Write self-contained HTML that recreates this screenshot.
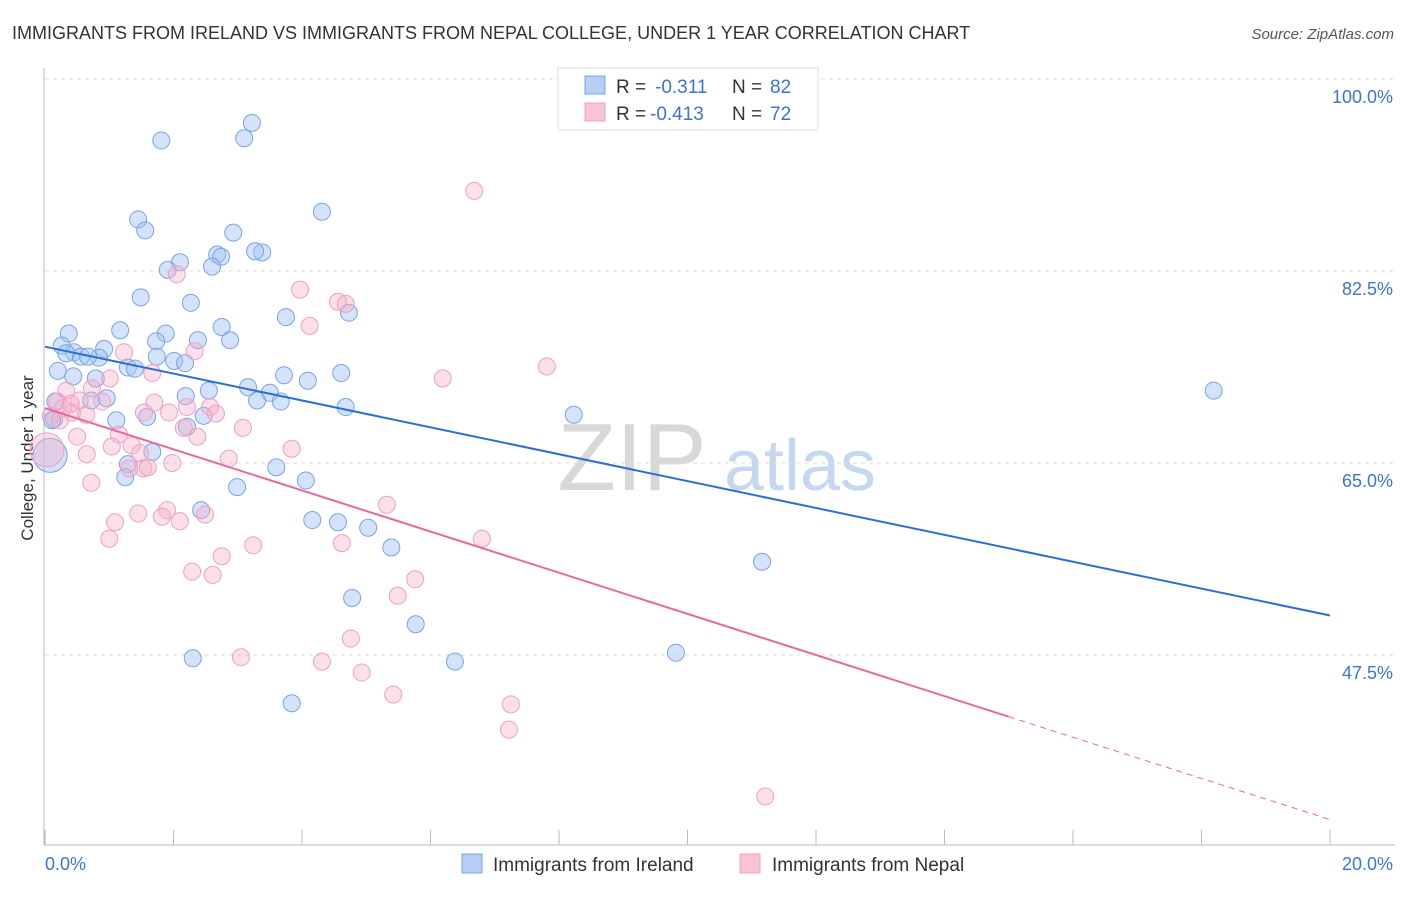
<!DOCTYPE html>
<html><head><meta charset="utf-8"><style>
body{margin:0;background:#fff;font-family:"Liberation Sans",sans-serif;}
svg text{font-family:"Liberation Sans",sans-serif;}
</style></head><body>
<svg id="chart" width="1406" height="892" viewBox="0 0 1406 892">
<text x="12" y="39" font-size="18" fill="#333">IMMIGRANTS FROM IRELAND VS IMMIGRANTS FROM NEPAL COLLEGE, UNDER 1 YEAR CORRELATION CHART</text>
<text x="1394" y="39" font-size="15" fill="#555" text-anchor="end" font-style="italic">Source: ZipAtlas.com</text>
<text transform="translate(33,458) rotate(-90)" font-size="17" fill="#333" text-anchor="middle">College, Under 1 year</text>
<g>
<text x="632" y="490" font-size="96" fill="#d8d8d8" text-anchor="middle" font-family="Liberation Serif">ZIP</text>
<text x="800" y="490" font-size="72" fill="#c5d8f0" text-anchor="middle">atlas</text>
</g>
<g id="grid"></g><g id="axes"></g><g id="pts"></g><g id="lines"></g>
<g>
<rect x="558" y="68" width="260" height="62" fill="#fff" stroke="#ddd"/>
<rect x="585" y="76" width="20" height="18" fill="#b8cff5" stroke="#7aa3e8"/>
<rect x="585" y="103" width="20" height="18" fill="#f8c3d5" stroke="#f0a0bf"/>
<text x="616" y="93" font-size="19" fill="#333">R = </text><text x="655" y="93" font-size="19" fill="#3a74d8">-0.311</text>
<text x="732" y="93" font-size="19" fill="#333">N = </text><text x="770" y="93" font-size="19" fill="#3a74d8">82</text>
<text x="616" y="120" font-size="19" fill="#333">R = </text><text x="650" y="120" font-size="19" fill="#3a74d8">-0.413</text>
<text x="732" y="120" font-size="19" fill="#333">N = </text><text x="770" y="120" font-size="19" fill="#3a74d8">72</text>
</g>
<g>
<rect x="462" y="854" width="20" height="19" fill="#b8cff5" stroke="#7aa3e8"/>
<text x="493" y="871" font-size="19" fill="#333">Immigrants from Ireland</text>
<rect x="740" y="854" width="20" height="19" fill="#f8c3d5" stroke="#f0a0bf"/>
<text x="772" y="871" font-size="19" fill="#333">Immigrants from Nepal</text>
</g>
</svg>
<script>
const yTicks=[100,82.5,65,47.5];
const yTickLabels=["100.0%","82.5%","65.0%","47.5%"];
const xTicks=[0,2,4,6,8,10,12,14,16,18,20];
const xEndLabels=["0.0%","20.0%"];
const irelandX=[1.81,3.22,3.10,4.31,1.45,1.56,2.93,2.68,2.74,3.38,3.27,2.10,1.91,2.60,1.49,2.27,4.73,3.75,0.37,1.17,1.88,2.75,2.38,2.88,1.73,0.26,0.45,0.92,0.33,0.56,0.84,0.67,1.74,2.01,2.18,1.29,1.40,0.20,0.44,0.79,4.61,3.72,4.09,2.55,3.16,3.50,3.30,3.67,0.96,0.72,2.19,4.68,8.23,18.19,1.11,1.59,2.47,0.14,2.21,1.67,1.29,1.25,3.60,4.06,2.99,2.43,4.16,4.56,5.03,5.39,11.16,4.78,5.77,2.30,6.38,9.82,3.84,0.11,0.16,0.08];
const irelandY=[94.4,96.0,94.6,87.9,87.2,86.2,86.0,84.0,83.8,84.2,84.3,83.3,82.6,82.9,80.1,79.6,78.7,78.3,76.8,77.1,76.8,77.4,76.2,76.2,76.1,75.7,75.1,75.4,75.0,74.7,74.6,74.7,74.7,74.3,74.1,73.7,73.6,73.4,72.9,72.7,73.2,73.0,72.5,71.6,71.9,71.4,70.7,70.6,70.9,70.7,71.1,70.1,69.4,71.6,68.9,69.2,69.3,69.0,68.3,66.0,64.9,63.7,64.6,63.4,62.8,60.7,59.8,59.6,59.1,57.3,56.0,52.7,50.3,47.2,46.9,47.7,43.1,68.9,70.6,65.7];
const nepalX=[6.68,2.05,3.97,4.12,4.56,4.68,1.23,2.33,1.67,1.01,7.81,6.19,0.73,0.33,0.54,0.19,0.28,0.42,0.89,1.70,2.21,2.57,0.64,1.54,1.93,2.66,3.08,2.16,2.37,0.50,1.15,1.35,1.04,3.84,2.86,0.65,1.98,1.48,1.53,1.60,1.31,0.72,5.32,1.09,1.45,1.90,1.82,2.10,2.49,6.80,1.00,4.62,3.24,2.75,2.29,2.61,5.76,5.49,4.76,3.05,4.31,4.93,5.42,7.25,7.22,11.21,0.09,0.23,0.40,0.03];
const nepalY=[89.8,82.2,80.8,77.5,79.7,79.5,75.1,75.2,73.2,72.7,73.8,72.7,71.8,71.6,70.7,70.6,70.0,69.6,70.6,70.5,70.1,70.1,69.4,69.6,69.6,69.5,68.2,68.2,67.4,67.4,67.6,66.6,66.5,66.3,65.4,65.8,65.0,65.9,64.5,64.6,64.5,63.2,61.2,59.6,60.4,60.7,60.1,59.7,60.3,58.1,58.1,57.7,57.5,56.5,55.1,54.8,54.4,52.9,49.0,47.3,46.9,45.9,43.9,43.0,40.7,34.6,69.3,68.9,70.4,66.2];
const irelandTrend=[75.6,51.1];
const nepalTrend=[70.0,32.5];
const nepalSolidEnd=15.0;

const NS="http://www.w3.org/2000/svg";
const X=v=>45+v/20*1285;
const Y=v=>79+(100-v)/17.5*192;
function mk(tag,attrs,parent){const e=document.createElementNS(NS,tag);for(const k in attrs)e.setAttribute(k,attrs[k]);document.getElementById(parent).appendChild(e);return e;}
yTicks.forEach((t,i)=>{
 const g=mk('line',{x1:45,x2:1395,y1:Y(t),y2:Y(t),stroke:'#ddd','stroke-dasharray':'4,4'},'grid');
 
 
 const l=mk('text',{x:1393,y:Y(t)+24,'font-size':18,fill:'#3a74d8','text-anchor':'end'},'grid');
 l.textContent=yTickLabels[i];
 
 
});
const ya=mk('line',{x1:44,x2:44,y1:68,y2:845,stroke:'#bbb'},'axes');


const xa=mk('line',{x1:44,x2:1395,y1:845,y2:845,stroke:'#bbb'},'axes');


xTicks.forEach(t=>{
 const tk=mk('line',{x1:X(t),x2:X(t),y1:830,y2:845,stroke:'#bbb'},'axes');
 
 
});
[[0,'start'],[20,'end']].forEach((p,i)=>{
 const l=mk('text',{x:i?1393:45,y:870,'font-size':18,fill:'#3a74d8','text-anchor':p[1]},'axes');
 l.textContent=xEndLabels[i];
 
 
});
function dots(xs,ys,fill,stroke,name){
 xs.forEach((x,i)=>{
  const big=(i===xs.length-1);
  const c=mk('circle',{cx:X(x),cy:Y(ys[i]),r:big?17:8.5,fill:fill,stroke:stroke,'stroke-width':1},'pts');
  
  
 });
}
dots(irelandX,irelandY,'rgba(160,192,242,0.45)','#7aa3e8','ireland-point');
dots(nepalX,nepalY,'rgba(246,175,202,0.4)','#f0a0bf','nepal-point');
const bl=mk('line',{x1:X(0),y1:Y(irelandTrend[0]),x2:X(20),y2:Y(irelandTrend[1]),stroke:'#2a6fd6','stroke-width':2},'lines');


const ny=x=>nepalTrend[0]+(nepalTrend[1]-nepalTrend[0])*x/20;
const pl=mk('line',{x1:X(0),y1:Y(ny(0)),x2:X(nepalSolidEnd),y2:Y(ny(nepalSolidEnd)),stroke:'#e8689a','stroke-width':2},'lines');


const pd=mk('line',{x1:X(nepalSolidEnd),y1:Y(ny(nepalSolidEnd)),x2:X(20),y2:Y(ny(20)),stroke:'#e8689a','stroke-width':1,'stroke-dasharray':'6,5'},'lines');


</script>
</body></html>
